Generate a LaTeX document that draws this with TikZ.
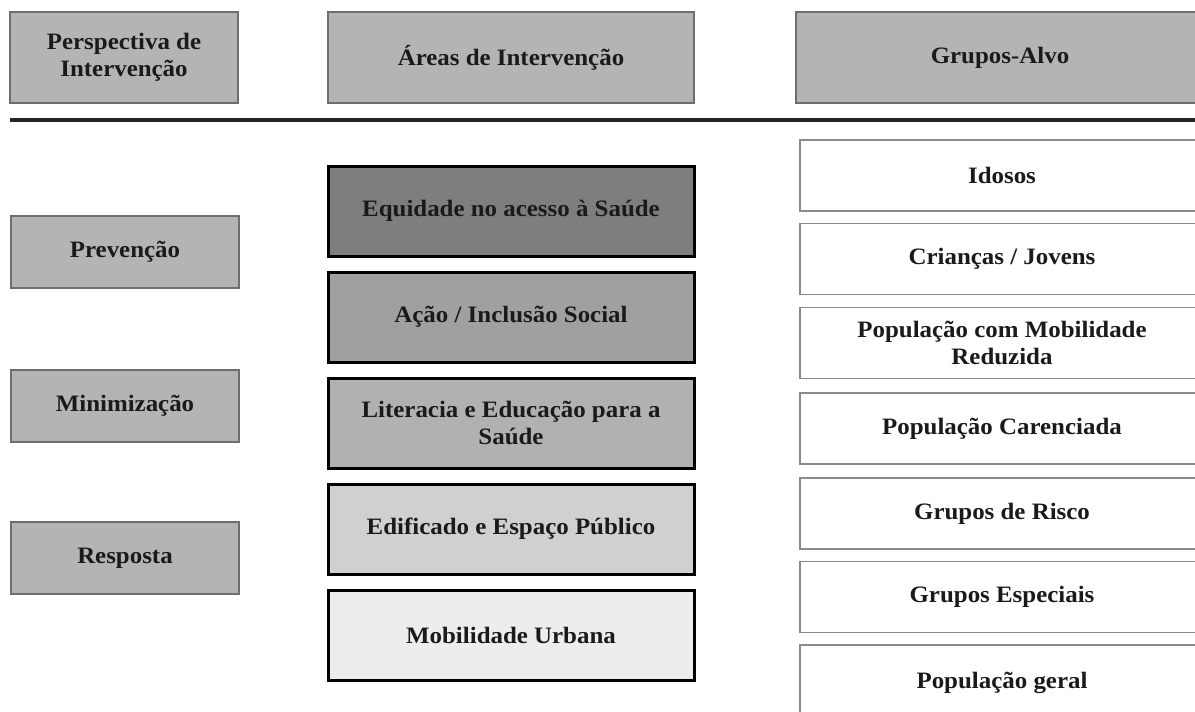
\documentclass[tikz,border=0pt]{standalone}
\usepackage{fontspec}
\setmainfont{Liberation Serif}[FakeStretch=1.06]
\definecolor{hdrgray}{HTML}{B4B4B4}
\definecolor{hdrline}{HTML}{6E6E6E}
\definecolor{eqfill}{HTML}{7E7E7E}
\definecolor{acfill}{HTML}{A0A0A0}
\definecolor{ltfill}{HTML}{B1B1B1}
\definecolor{edfill}{HTML}{D0D0D0}
\definecolor{mbfill}{HTML}{EDEDED}
\definecolor{wline}{HTML}{8A8A8A}
\definecolor{txt}{HTML}{1A1A1A}
\tikzset{
  basebox/.style={rectangle, align=center, inner sep=2pt, text=txt,
    font=\fontsize{23.5}{26.5}\selectfont\bfseries},
  graybox/.style={basebox, fill=hdrgray, draw=hdrline, line width=1.8pt},
  areabox/.style={basebox, draw=black, line width=3pt, minimum width=366pt, minimum height=90pt},
  groupbox/.style={basebox, fill=white, draw=wline, line width=1.8pt, minimum width=404pt, minimum height=71pt},
}
\begin{document}
\begin{tikzpicture}[x=1pt,y=-1pt]
\useasboundingbox (0,0) rectangle (1195,712);
\fill[white] (0,0) rectangle (1195,712);
% headers
\node[graybox, minimum width=228pt, minimum height=91pt] (hpersp) at (124,57.5) {Perspectiva de\\Intervenção};
\node[graybox, minimum width=366pt, minimum height=91pt] (hareas) at (511,57.5) {Áreas de Intervenção};
\node[graybox, minimum width=408pt, minimum height=91pt] (hgrupos) at (1000,57.5) {Grupos-Alvo};
% separator
\coordinate (sepL) at (10,120);
\coordinate (sepR) at (1200,120);
\draw[line width=4pt, color=black!85] (sepL) -- (sepR);
% perspective
\node[graybox, minimum width=228pt, minimum height=72pt] (prev) at (125,252) {Prevenção};
\node[graybox, minimum width=228pt, minimum height=72pt] (mini) at (125,406) {Minimização};
\node[graybox, minimum width=228pt, minimum height=72pt] (resp) at (125,558) {Resposta};
% areas
\node[areabox, fill=eqfill] (equid) at (511,211) {Equidade no acesso à Saúde};
\node[areabox, fill=acfill] (acao) at (511,317) {Ação / Inclusão Social};
\node[areabox, fill=ltfill] (liter) at (511,423) {Literacia e Educação para a\\Saúde};
\node[areabox, fill=edfill] (edif) at (511,529) {Edificado e Espaço Público};
\node[areabox, fill=mbfill] (mobil) at (511,635.5) {Mobilidade Urbana};
% groups
\node[groupbox] (idosos) at (1002,175.5) {Idosos};
\node[groupbox] (criancas) at (1002,259) {Crianças / Jovens};
\node[groupbox] (popmob) at (1002,343) {População com Mobilidade\\Reduzida};
\node[groupbox] (carenc) at (1002,428.5) {População Carenciada};
\node[groupbox] (risco) at (1002,513.5) {Grupos de Risco};
\node[groupbox] (espec) at (1002,597) {Grupos Especiais};
\node[groupbox, minimum height=76pt] (geral) at (1002,683) {População geral};
\end{tikzpicture}
\end{document}
